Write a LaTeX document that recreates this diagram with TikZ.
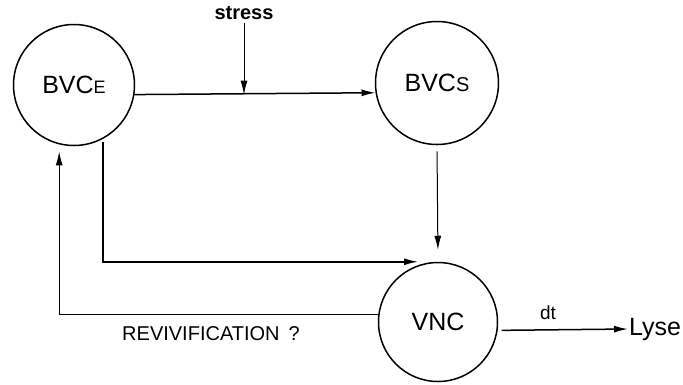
\documentclass[tikz,border=0pt]{standalone}
\usepackage{fontspec}
\setmainfont{Liberation Sans}
\usetikzlibrary{arrows.meta}
\begin{document}
\begin{tikzpicture}[x=1pt,y=-1pt,
  state/.style={draw,circle,line width=1.5pt,minimum size=#1,inner sep=0pt,
    font=\fontsize{25}{27}\selectfont},
  flow/.style={line width=1.5pt,-{Latex[length=14pt,width=7pt]}},
  thinflow/.style={flow,line width=1pt},
  lbl/.style={inner sep=1pt}]
\useasboundingbox (0,0) rectangle (683,384);
% states
\node[state=121pt] (bvce) at (74,85) {BVC{\fontsize{18}{18}\selectfont E}\hspace{5pt}};
\node[state=123pt] (bvcs) at (437,83) {BVC{\fontsize{20}{20}\selectfont S}};
\node[state=119pt] (vnc) at (438,322) {VNC};
% labels
\node[lbl,font=\bfseries\fontsize{20}{21}\selectfont] (stress) at (244,13) {stress};
\node[lbl,font=\fontsize{25}{27}\selectfont,anchor=west] (lyse) at (628,329) {Lyse};
\node[lbl,font=\fontsize{19}{20}\selectfont] (dt) at (548,313) {dt};
\node[lbl,font=\fontsize{20}{22}\selectfont] (reviv) at (211,334) {REVIVIFICATION\hspace{9pt}?};
% transitions
\draw[flow] (bvce.-9) -- (bvcs.189);
\draw[thinflow,shorten <=2pt] (stress.south) -- (stress.south |- bvce.-9);
\draw[thinflow,shorten <=6pt,shorten >=12pt] (bvcs.south) -- (vnc.north);
\draw[flow,shorten <=3pt] (bvce.-62) |- ([xshift=-20pt]vnc.north);
\draw[thinflow,shorten >=7pt] (vnc.173) -| (bvce.-104);
\draw[flow,shorten <=4pt] (vnc.-8) -- (lyse.west);
\end{tikzpicture}
\end{document}
